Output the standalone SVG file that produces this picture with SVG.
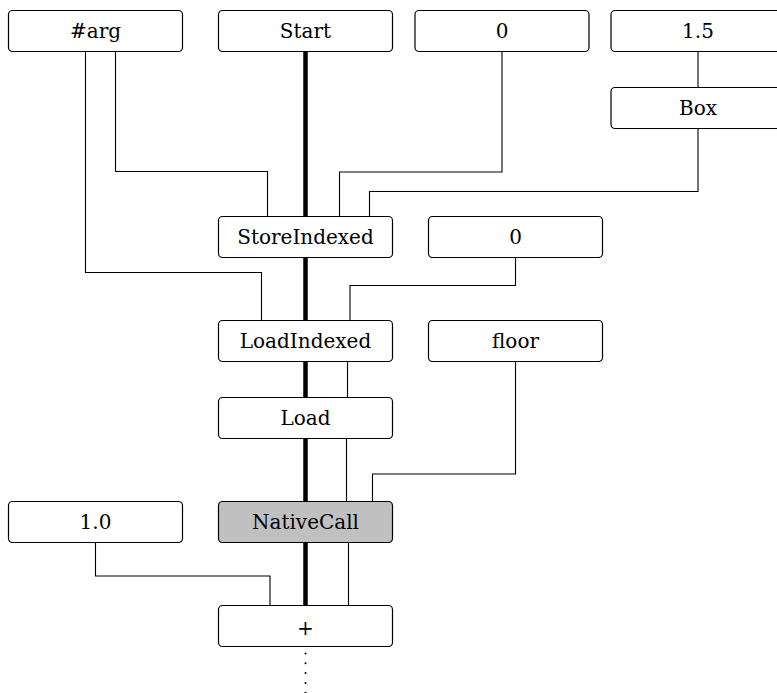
<svg xmlns="http://www.w3.org/2000/svg" width="777" height="693" viewBox="0 0 777 693">
  <style>
    .node rect { fill: #ffffff; stroke: #000000; stroke-width: 1.2; }
    .node.hl rect { fill: #c0c0c0; }
    .node text { font-family: "DejaVu Serif", serif; font-size: 20px; text-anchor: middle; fill: #000000; }
    .edge { fill: none; stroke: #000000; stroke-width: 1.1; }
    .ctrl { fill: none; stroke: #000000; stroke-width: 4.5; }
    .dot { fill: #000000; }
  </style>
  <rect width="777" height="693" fill="#ffffff"/>

  <!-- data and control-flow connectors -->
  <g id="connectors">
    <path class="ctrl" d="M305.5 51.5 V605.5"/>
    <path class="edge" d="M115.5 51.5 V171.5 H267.5 V216.5"/>
    <path class="edge" d="M85.5 51.5 V272.5 H261.5 V320.5"/>
    <path class="edge" d="M502 51.5 V172 H339.5 V216.5"/>
    <path class="edge" d="M698 51.5 V87.5"/>
    <path class="edge" d="M698 128.5 V191.5 H369.5 V216.5"/>
    <path class="edge" d="M515.5 257.5 V285.5 H350 V320.5"/>
    <path class="edge" d="M347.5 361.5 V397.5"/>
    <path class="edge" d="M346.5 438.5 V501.5"/>
    <path class="edge" d="M515.5 361.5 V474 H372.5 V501.5"/>
    <path class="edge" d="M348.5 542.5 V605.5"/>
    <path class="edge" d="M95.5 542.5 V576 H270 V605.5"/>
    <g id="continuation">
      <circle class="dot" cx="305.5" cy="653.5" r="1"/>
      <circle class="dot" cx="305.5" cy="663.3" r="1"/>
      <circle class="dot" cx="305.5" cy="673.1" r="1"/>
      <circle class="dot" cx="305.5" cy="682.9" r="1"/>
      <circle class="dot" cx="305.5" cy="692.7" r="1"/>
    </g>
  </g>

  <g id="n-arg" class="node">
    <rect x="8.5" y="10.5" width="174" height="41" rx="4"/>
    <text x="95.5" y="37.5">#arg</text>
  </g>
  <g id="n-start" class="node">
    <rect x="218.5" y="10.5" width="174" height="41" rx="4"/>
    <text x="305.5" y="37.5">Start</text>
  </g>
  <g id="n-zero-a" class="node">
    <rect x="415" y="10.5" width="174" height="41" rx="4"/>
    <text x="502" y="37.5">0</text>
  </g>
  <g id="n-const15" class="node">
    <rect x="611" y="10.5" width="174" height="41" rx="4"/>
    <text x="698" y="37.5">1.5</text>
  </g>
  <g id="n-box" class="node">
    <rect x="611" y="87.5" width="174" height="41" rx="4"/>
    <text x="698" y="114.5">Box</text>
  </g>
  <g id="n-store" class="node">
    <rect x="218.5" y="216.5" width="174" height="41" rx="4"/>
    <text x="305.5" y="243.5">StoreIndexed</text>
  </g>
  <g id="n-zero-b" class="node">
    <rect x="428.5" y="216.5" width="174" height="41" rx="4"/>
    <text x="515.5" y="243.5">0</text>
  </g>
  <g id="n-loadidx" class="node">
    <rect x="218.5" y="320.5" width="174" height="41" rx="4"/>
    <text x="305.5" y="347.5">LoadIndexed</text>
  </g>
  <g id="n-floor" class="node">
    <rect x="428.5" y="320.5" width="174" height="41" rx="4"/>
    <text x="515.5" y="347.5">floor</text>
  </g>
  <g id="n-load" class="node">
    <rect x="218.5" y="397.5" width="174" height="41" rx="4"/>
    <text x="305.5" y="424.5">Load</text>
  </g>
  <g id="n-const10" class="node">
    <rect x="8.5" y="501.5" width="174" height="41" rx="4"/>
    <text x="95.5" y="528.5">1.0</text>
  </g>
  <g id="n-native" class="node hl">
    <rect x="218.5" y="501.5" width="174" height="41" rx="4"/>
    <text x="305.5" y="528.5">NativeCall</text>
  </g>
  <g id="n-add" class="node">
    <rect x="218.5" y="605.5" width="174" height="41" rx="4"/>
    <text x="305.5" y="634.5">+</text>
  </g>
</svg>
